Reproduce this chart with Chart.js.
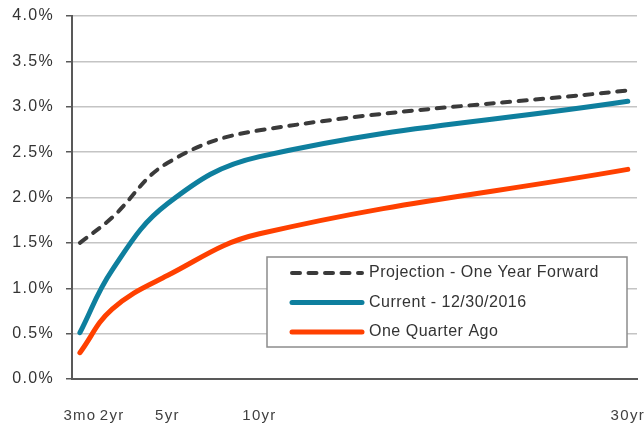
<!DOCTYPE html>
<html><head><meta charset="utf-8">
<script src="https://cdn.jsdelivr.net/npm/chart.js@4"></script>
<style>html,body{margin:0;padding:0;background:#fff}#wrap{width:644px;height:423px}</style>
</head><body><div id="wrap"><canvas id="c" width="644" height="423"></canvas></div>
<script>
const maturities = [0.25, 2, 5, 10, 30];
const tickLabels = ['3mo', '2yr', '5yr', '10yr', '30yr'];
const seriesNames = ['Projection - One Year Forward', 'Current - 12/30/2016', 'One Quarter Ago'];
const projection = [1.50, 1.78, 2.38, 2.74, 3.18];
const current = [0.51, 1.20, 1.93, 2.45, 3.06];
const quarterAgo = [0.29, 0.77, 1.14, 1.60, 2.31];

const FONT = "'Liberation Sans', Arial, sans-serif";
const pts = arr => arr.map((v, i) => ({x: maturities[i], y: v}));

const spacingPlugin = {
  id: 'spacing',
  beforeDraw(chart) { chart.ctx.letterSpacing = '1.3px'; }
};

const legendPlugin = {
  id: 'boxLegend',
  afterDatasetsDraw(chart) {
    const ctx = chart.ctx, a = chart.chartArea;
    const bx = a.right - 370, by = a.top + 241, bw = 360, bh = 90;
    ctx.save();
    ctx.letterSpacing = '0.5px';
    ctx.fillStyle = '#fff';
    ctx.fillRect(bx, by, bw, bh);
    ctx.strokeStyle = '#8c8c8c';
    ctx.lineWidth = 1.5;
    ctx.strokeRect(bx, by, bw, bh);
    ctx.font = '16px ' + FONT;
    ctx.textBaseline = 'middle';
    ctx.fillStyle = '#333';
    chart.data.datasets.forEach((ds, i) => {
      const y = by + 16 + i * 29.5;
      ctx.beginPath();
      ctx.lineCap = 'round';
      ctx.strokeStyle = ds.borderColor;
      ctx.lineWidth = ds.borderWidth;
      ctx.setLineDash(ds.borderDash || []);
      ctx.moveTo(bx + 25, y);
      ctx.lineTo(bx + 95, y);
      ctx.stroke();
      ctx.setLineDash([]);
      ctx.fillText(ds.label, bx + 102, y);
    });
    ctx.restore();
  }
};

new Chart(document.getElementById('c'), {
  type: 'line',
  data: {
    datasets: [
      {label: seriesNames[0], data: pts(projection), borderColor: '#3a3a3a', borderWidth: 4, borderDash: [8, 8.5], borderCapStyle: 'round', order: 0},
      {label: seriesNames[1], data: pts(current), borderColor: '#0e7f9e', borderWidth: 5, borderCapStyle: 'round', order: 1},
      {label: seriesNames[2], data: pts(quarterAgo), borderColor: '#ff4000', borderWidth: 5, borderCapStyle: 'round', order: 2}
    ]
  },
  options: {
    responsive: false,
    animation: false,
    devicePixelRatio: 1,
    layout: {padding: {top: 16, right: 7, left: 0, bottom: 0}},
    elements: {point: {radius: 0}, line: {tension: 0.4, fill: false}},
    plugins: {legend: {display: false}, tooltip: {enabled: false}},
    scales: {
      x: {
        type: 'linear', min: -0.18, max: 30.5,
        afterBuildTicks: s => { s.ticks = maturities.map(v => ({value: v})); },
        afterFit: s => { s.height = 44; s.paddingLeft = 0; s.paddingRight = 0; },
        grid: {display: false, drawTicks: false},
        border: {color: '#595959', width: 2},
        ticks: {
          autoSkip: false, maxRotation: 0, padding: 28,
          color: '#404040', font: {family: FONT, size: 15},
          callback: (v) => { const i = maturities.indexOf(v); return i >= 0 ? tickLabels[i] : ''; }
        }
      },
      y: {
        min: 0, max: 4,
        afterFit: s => { s.width = 72; s.paddingTop = 0; s.paddingBottom = 0; },
        grid: {color: '#c4c4c4', lineWidth: 1.5, tickLength: 6, tickColor: '#595959'},
        border: {color: '#595959', width: 2},
        ticks: {
          stepSize: 0.5, padding: 12, color: '#333', font: {family: FONT, size: 16},
          callback: v => v.toFixed(1) + '%'
        }
      }
    }
  },
  plugins: [spacingPlugin, legendPlugin]
});
</script></body></html>
